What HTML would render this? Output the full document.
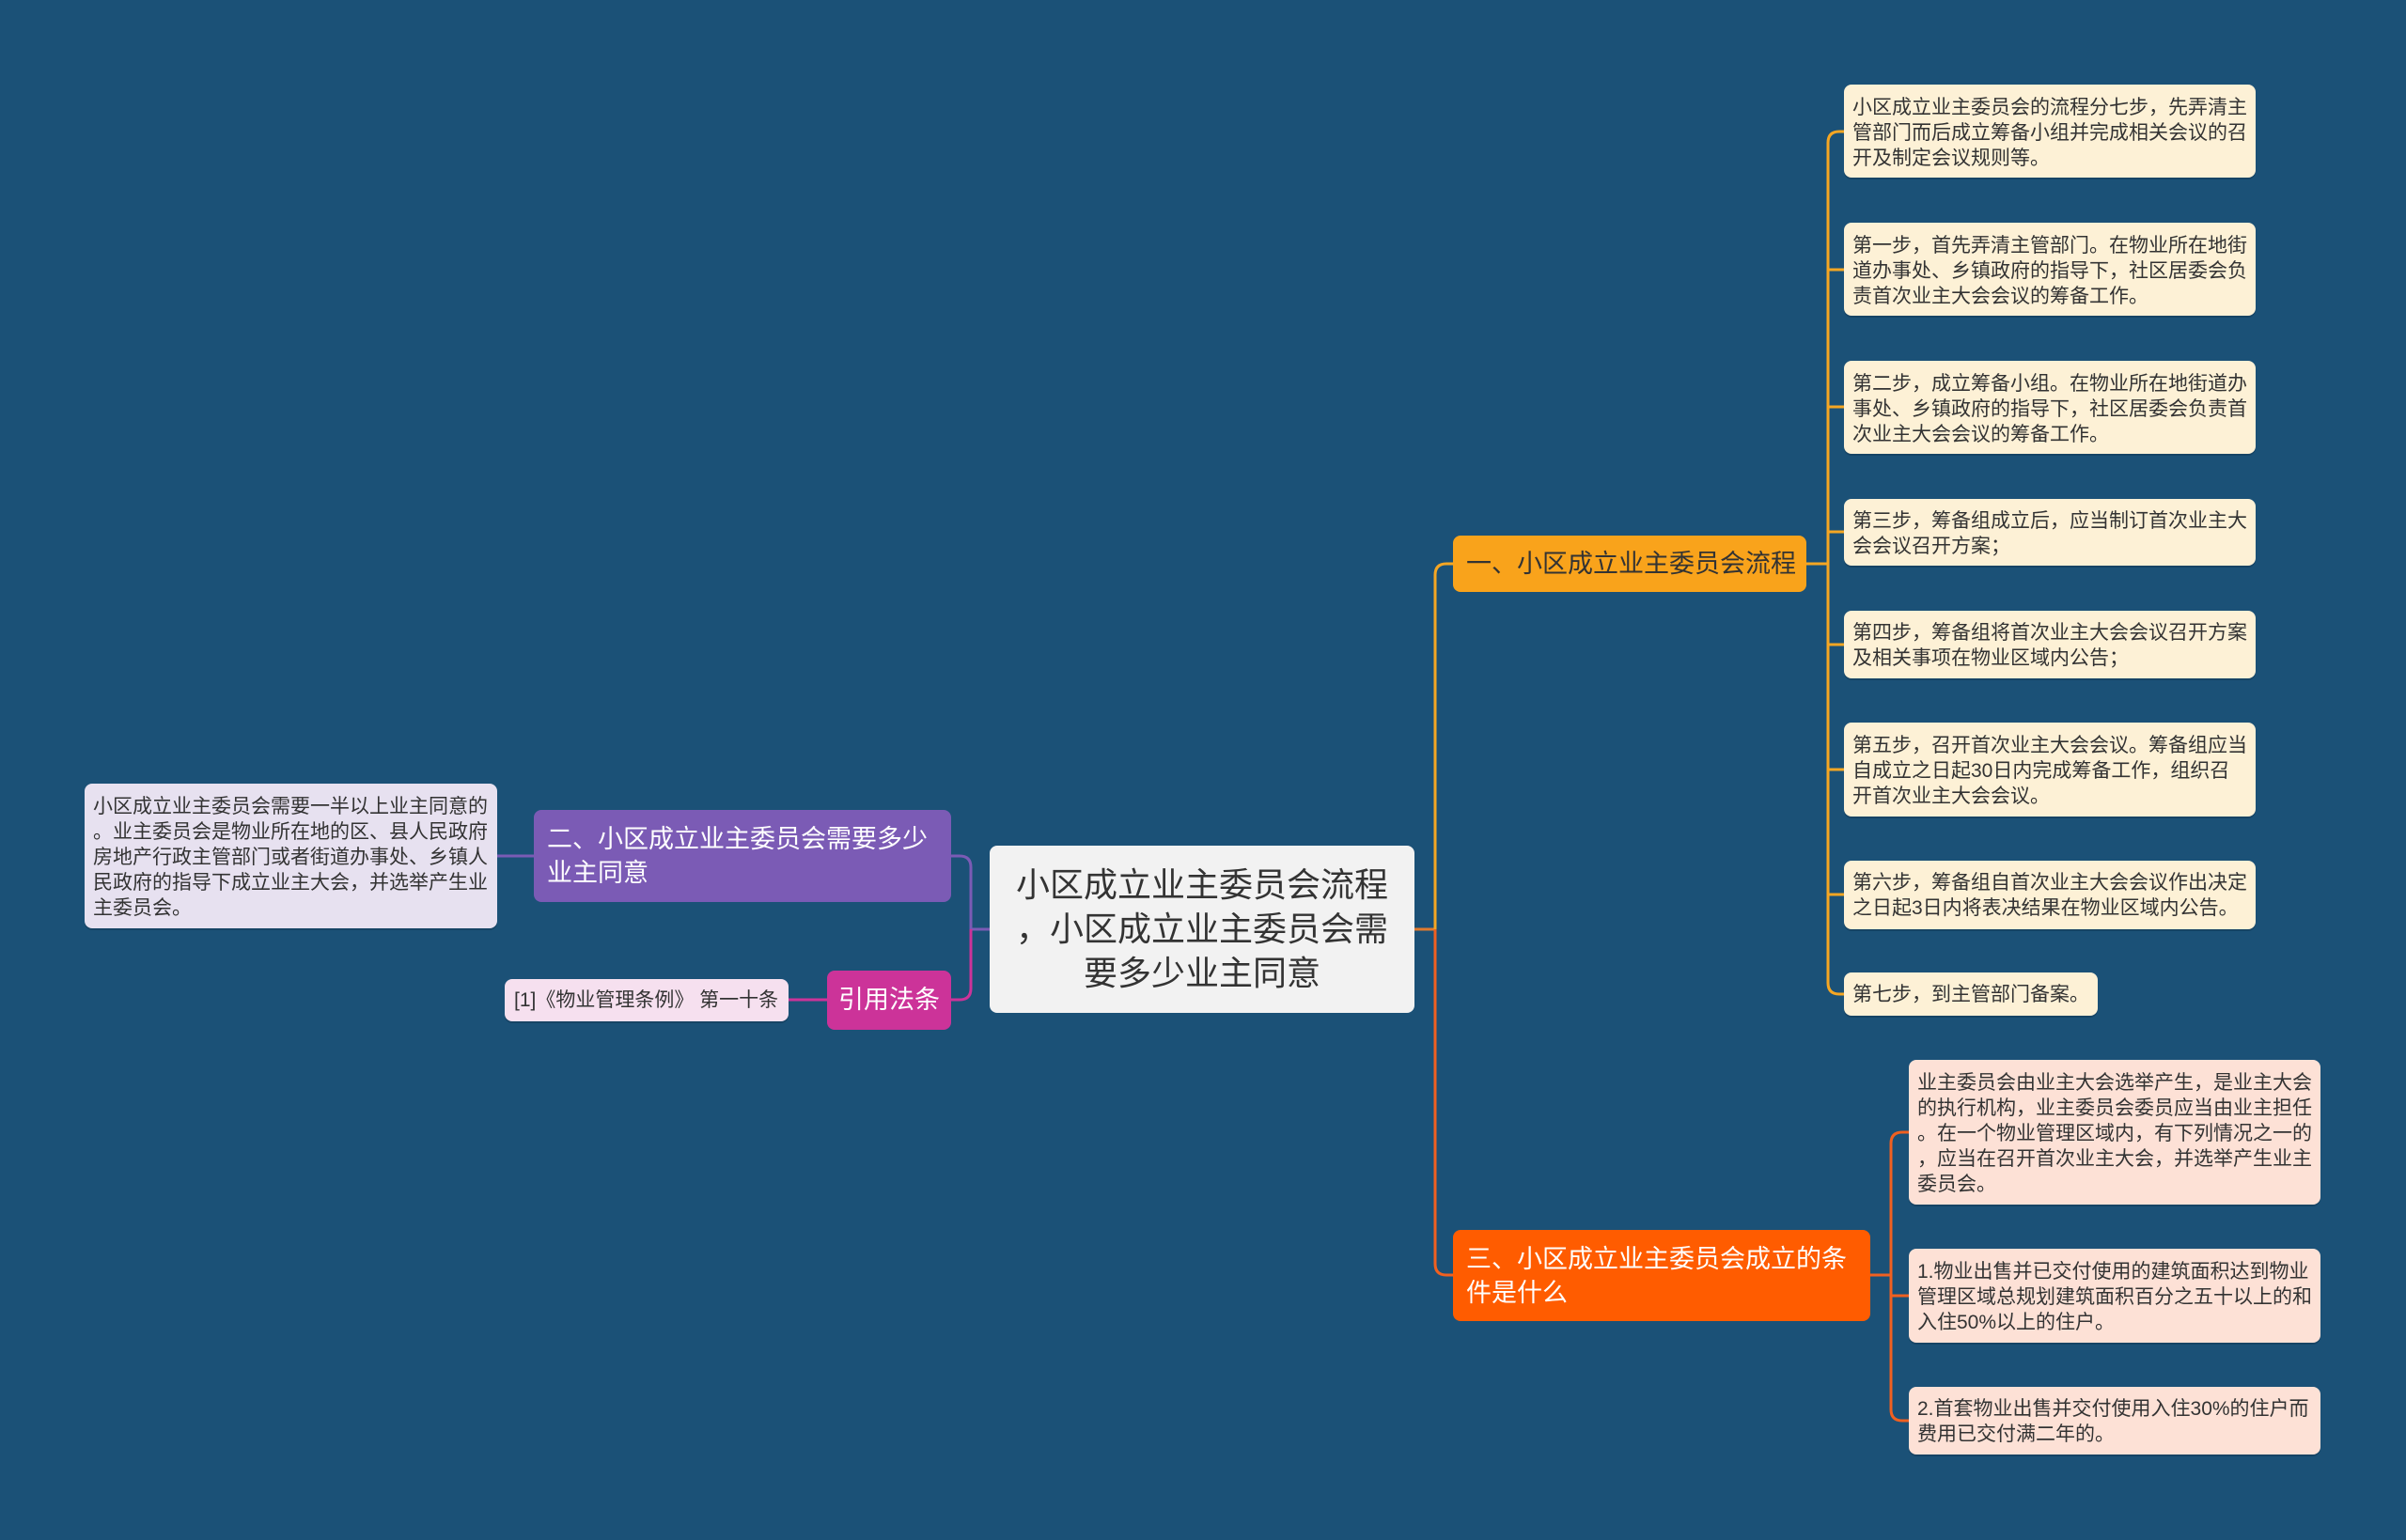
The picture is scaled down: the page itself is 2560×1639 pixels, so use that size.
<!DOCTYPE html>
<html><head><meta charset="utf-8"><style>
body{margin:0;width:2560px;height:1639px;background:#1b5177;overflow:hidden;position:relative;font-family:"Liberation Sans","Noto Sans CJK SC",sans-serif}
.n{position:absolute;box-sizing:border-box;border-radius:8px;white-space:nowrap}
.leaf{font-size:21px;line-height:27px;padding:13px 9px;color:#333;background:#fdf1d6;box-shadow:0 2px 0 rgba(0,0,0,.15)}
.c{background:#fde1d6}
svg{position:absolute;left:0;top:0}
</style></head><body>
<svg width="2560" height="1639" fill="none" stroke-width="3">
<path d="M1505 989 H1527" stroke="#e07a2e"/>
<path d="M1527 989 V612 Q1527 600 1539 600 H1546" stroke="#f5a623"/>
<path d="M1527 989 V1345 Q1527 1357 1539 1357 H1546" stroke="#f06020"/>
<path d="M1922 600 H1945" stroke="#f5a623"/>
<path d="M1945 152 Q1945 140 1957 140 H1962 M1945 1046 Q1945 1058 1957 1058 H1962 M1945 152 V1046 M1945 287 H1962 M1945 433 H1962 M1945 566 H1962 M1945 686 H1962 M1945 819 H1962 M1945 952 H1962" stroke="#f5a623"/>
<path d="M1990 1357 H2012 M2012 1217 Q2012 1205 2024 1205 H2031 M2012 1500 Q2012 1512 2024 1512 H2031 M2012 1217 V1500 M2012 1379 H2031" stroke="#f06020"/>
<path d="M1053 989 H1033 M1033 989 V923 Q1033 911 1021 911 H1012" stroke="#7b5bb5"/>
<path d="M1033 989 V1052 Q1033 1064 1021 1064 H1012" stroke="#cc3399"/>
<path d="M568 911 H529" stroke="#7b5bb5"/>
<path d="M880 1064 H839" stroke="#cc3399"/>
</svg>
<div class="n" style="left:1053px;top:900px;width:452px;height:178px;background:#f2f2f2;font-size:36px;line-height:47px;text-align:center;padding-top:18px;color:#333">小区成立业主委员会流程<br>，小区成立业主委员会需<br>要多少业主同意</div>
<div class="n" style="left:1546px;top:570px;width:376px;height:60px;background:#f9a31b;font-size:27px;line-height:60px;padding-left:14px;color:#333">一、小区成立业主委员会流程</div>
<div class="n" style="left:1546px;top:1309px;width:444px;height:97px;background:#ff5c00;font-size:27px;line-height:36px;padding:13px 14px;color:#fff">三、小区成立业主委员会成立的条<br>件是什么</div>
<div class="n" style="left:568px;top:862px;width:444px;height:98px;background:#7b5bb5;font-size:27px;line-height:36px;padding:13px 14px;color:#fff">二、小区成立业主委员会需要多少<br>业主同意</div>
<div class="n" style="left:880px;top:1033px;width:132px;height:63px;background:#cc3399;font-size:27px;line-height:63px;text-align:center;color:#fff">引用法条</div>
<div class="n leaf" style="left:537px;top:1042px;width:302px;height:45px;background:#f6e0ef;font-size:21px;line-height:45px;padding:0 10px">[1]《物业管理条例》 第一十条</div>
<div class="n leaf" style="left:90px;top:834px;width:439px;height:154px;background:#e7e1f0;padding:11px 9px">小区成立业主委员会需要一半以上业主同意的<br>。业主委员会是物业所在地的区、县人民政府<br>房地产行政主管部门或者街道办事处、乡镇人<br>民政府的指导下成立业主大会，并选举产生业<br>主委员会。</div>
<div class="n leaf" style="left:1962px;top:90px;width:438px;height:99px;padding:11px 9px">小区成立业主委员会的流程分七步，先弄清主<br>管部门而后成立筹备小组并完成相关会议的召<br>开及制定会议规则等。</div>
<div class="n leaf" style="left:1962px;top:237px;width:438px;height:99px;padding:11px 9px">第一步，首先弄清主管部门。在物业所在地街<br>道办事处、乡镇政府的指导下，社区居委会负<br>责首次业主大会会议的筹备工作。</div>
<div class="n leaf" style="left:1962px;top:384px;width:438px;height:99px;padding:11px 9px">第二步，成立筹备小组。在物业所在地街道办<br>事处、乡镇政府的指导下，社区居委会负责首<br>次业主大会会议的筹备工作。</div>
<div class="n leaf" style="left:1962px;top:531px;width:438px;height:71px;padding:10px 9px">第三步，筹备组成立后，应当制订首次业主大<br>会会议召开方案；</div>
<div class="n leaf" style="left:1962px;top:650px;width:438px;height:72px;padding:10px 9px">第四步，筹备组将首次业主大会会议召开方案<br>及相关事项在物业区域内公告；</div>
<div class="n leaf" style="left:1962px;top:769px;width:438px;height:100px;padding:11px 9px">第五步，召开首次业主大会会议。筹备组应当<br>自成立之日起30日内完成筹备工作，组织召<br>开首次业主大会会议。</div>
<div class="n leaf" style="left:1962px;top:916px;width:438px;height:73px;padding:10px 9px">第六步，筹备组自首次业主大会会议作出决定<br>之日起3日内将表决结果在物业区域内公告。</div>
<div class="n leaf" style="left:1962px;top:1035px;width:270px;height:46px;padding:0 9px;line-height:48px">第七步，到主管部门备案。</div>
<div class="n leaf c" style="left:2031px;top:1128px;width:438px;height:154px;padding:11px 9px">业主委员会由业主大会选举产生，是业主大会<br>的执行机构，业主委员会委员应当由业主担任<br>。在一个物业管理区域内，有下列情况之一的<br>，应当在召开首次业主大会，并选举产生业主<br>委员会。</div>
<div class="n leaf c" style="left:2031px;top:1329px;width:438px;height:100px;padding:11px 9px">1.物业出售并已交付使用的建筑面积达到物业<br>管理区域总规划建筑面积百分之五十以上的和<br>入住50%以上的住户。</div>
<div class="n leaf c" style="left:2031px;top:1476px;width:438px;height:72px;padding:10px 9px">2.首套物业出售并交付使用入住30%的住户而<br>费用已交付满二年的。</div>
</body></html>
